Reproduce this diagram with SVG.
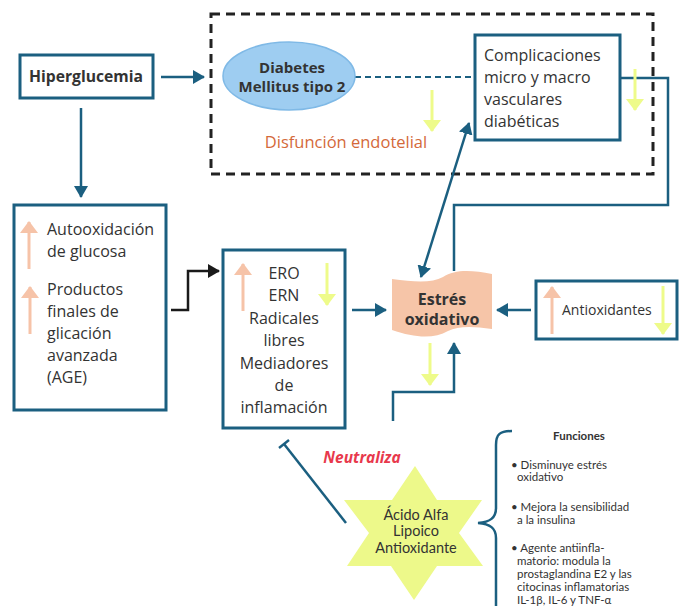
<svg xmlns="http://www.w3.org/2000/svg" width="685" height="606" viewBox="0 0 685 606">
<style>
.box{fill:#fff;stroke:#1b5f80;stroke-width:3}
.t{font-family:"Open Sans",Lato,sans-serif;fill:#333;font-size:16px}
.l{font-family:Lato,"Open Sans",sans-serif}
.b{font-weight:bold}
.c{text-anchor:middle}
.ln{fill:none;stroke:#1b5f80;stroke-width:2.5}
.ya{stroke:#eefb8a;stroke-width:3;fill:none}
.pa{stroke:#f6c3a8;stroke-width:3;fill:none}
.sm{font-size:11.5px}
</style>
<defs>
<marker id="ah" viewBox="0 0 12 14" markerWidth="12" markerHeight="14" refX="11" refY="7" orient="auto-start-reverse" markerUnits="userSpaceOnUse"><path d="M0,0L12,7L0,14z" fill="#1b5f80"/></marker>
<marker id="ahk" viewBox="0 0 12 14" markerWidth="12" markerHeight="14" refX="11" refY="7" orient="auto" markerUnits="userSpaceOnUse"><path d="M0,0L12,7L0,14z" fill="#1a1a1a"/></marker>
<marker id="ay" viewBox="0 0 12 18" markerWidth="12" markerHeight="18" refX="11" refY="9" orient="auto" markerUnits="userSpaceOnUse"><path d="M0,0L12,9L0,18z" fill="#eefb8a"/></marker>
<marker id="ap" viewBox="0 0 12 18" markerWidth="12" markerHeight="18" refX="11" refY="9" orient="auto" markerUnits="userSpaceOnUse"><path d="M0,0L12,9L0,18z" fill="#f6c3a8"/></marker>
</defs>

<rect id="grupo-disfuncion" x="211" y="14" width="442" height="160" fill="none" stroke="#222" stroke-width="3" stroke-dasharray="9,6"/>

<g id="connectors">
<line class="ln" x1="161" y1="77" x2="204" y2="77" marker-end="url(#ah)"/>
<line class="ln" x1="81" y1="108" x2="81" y2="197" marker-end="url(#ah)"/>
<line x1="355" y1="77" x2="475" y2="77" stroke="#1b5f80" stroke-width="2" stroke-dasharray="6,4"/>
<path class="ln" d="M620,78H668V205H454V271"/>
<line class="ln" x1="421" y1="277" x2="469" y2="123" marker-start="url(#ah)" marker-end="url(#ah)"/>
<path d="M171,310H188V271H219" fill="none" stroke="#1a1a1a" stroke-width="2.5" marker-end="url(#ahk)"/>
<line class="ln" x1="352" y1="310" x2="386" y2="310" marker-end="url(#ah)"/>
<line class="ln" x1="531" y1="310" x2="497" y2="310" marker-end="url(#ah)"/>
<path class="ln" d="M393,421V392H454V343" marker-end="url(#ah)"/>
<line class="ln" x1="346" y1="523" x2="284" y2="444"/>
<line class="ln" x1="279" y1="448" x2="289" y2="440"/>
<path class="ln" d="M512,431C500,431 496,434 496,445V508C496,518 490,522 478,523C490,524 496,528 496,538V606"/>
</g>

<g id="hiperglucemia">
<rect class="box" x="20" y="55" width="133" height="43"/>
<text class="t b c" x="86" y="82" style="font-size:15.7px">Hiperglucemia</text>
</g>

<g id="diabetes">
<ellipse cx="289" cy="76" rx="66" ry="34" fill="#9ecdf1" stroke="#7fb9e6" stroke-width="1.5"/>
<text class="t b c" x="292" y="72.5" style="font-size:15px">Diabetes</text>
<text class="t b c" x="292" y="92" style="font-size:15px">Mellitus tipo 2</text>
</g>

<g id="complicaciones">
<rect class="box" x="475" y="35" width="145" height="105"/>
<text class="t" x="484" y="61">Complicaciones</text>
<text class="t" x="484" y="83">micro y macro</text>
<text class="t" x="484" y="105">vasculares</text>
<text class="t" x="484" y="127">diabéticas</text>
</g>

<g id="disfuncion">
<text class="t c" x="346" y="148" style="font-size:16.5px;fill:#d4693a">Disfunción endotelial</text>
</g>
<line class="ya" x1="432" y1="90" x2="432" y2="131" marker-end="url(#ay)"/>
<line class="ya" x1="635" y1="69" x2="635" y2="110" marker-end="url(#ay)"/>

<g id="autooxidacion">
<rect class="box" x="14" y="205" width="152" height="205"/>
<text class="t" x="47" y="235">Autooxidación</text>
<text class="t" x="47" y="257">de glucosa</text>
<text class="t" x="47" y="295">Productos</text>
<text class="t" x="47" y="317">finales de</text>
<text class="t" x="47" y="339">glicación</text>
<text class="t" x="47" y="361">avanzada</text>
<text class="t" x="47" y="383">(AGE)</text>
<line class="pa" x1="29" y1="269" x2="29" y2="222" marker-end="url(#ap)"/>
<line class="pa" x1="30" y1="334" x2="30" y2="287" marker-end="url(#ap)"/>
</g>

<g id="ero">
<rect class="box" x="223" y="250" width="122" height="178"/>
<text class="t c" x="284" y="279">ERO</text>
<text class="t c" x="284" y="301">ERN</text>
<text class="t c" x="284" y="324">Radicales</text>
<text class="t c" x="284" y="346">libres</text>
<text class="t c" x="284" y="369">Mediadores</text>
<text class="t c" x="284" y="391">de</text>
<text class="t c" x="284" y="413">inflamación</text>
<line class="pa" x1="243" y1="311" x2="243" y2="264" marker-end="url(#ap)"/>
<line class="ya" x1="327" y1="263" x2="327" y2="305" marker-end="url(#ay)"/>
</g>

<g id="estres">
<path d="M392,279C415,282 432,283 443,277C455,269 472,270 492,274L492,329C472,326 458,326 448,331C434,339 415,338 392,330Z" fill="#f6c5a8"/>
<text class="t b c" x="442" y="305">Estrés</text>
<text class="t b c" x="442" y="325">oxidativo</text>
</g>
<line class="ya" x1="430" y1="343" x2="430" y2="385" marker-end="url(#ay)"/>

<g id="antioxidantes">
<rect class="box" x="536" y="281" width="141" height="58"/>
<text class="t" x="562" y="315" style="font-size:14px">Antioxidantes</text>
<line class="pa" x1="552" y1="334" x2="552" y2="287" marker-end="url(#ap)"/>
<line class="ya" x1="663" y1="286" x2="663" y2="334" marker-end="url(#ay)"/>
</g>

<g id="neutraliza">
<text class="t b c" x="362" y="463" style="font-size:15.5px;font-style:italic;fill:#e8394c">Neutraliza</text>
</g>

<g id="acido-alfa-lipoico">
<path d="M415,466L437,500L482,500L459,533L483,566L437,566L414,600L391,566L347,566L369,533L344,500L392,500Z" fill="#edf98a"/>
<text class="t l c" x="416" y="520" style="font-size:14.5px">Ácido Alfa</text>
<text class="t l c" x="416" y="536.3" style="font-size:14.5px">Lipoico</text>
<text class="t l c" x="416" y="552.6" style="font-size:14.5px">Antioxidante</text>
</g>

<g id="funciones">
<text class="t l b c sm" x="579" y="440">Funciones</text>
<text class="t l sm" x="511" y="469">• Disminuye estrés</text>
<text class="t l sm" x="517" y="481">oxidativo</text>
<text class="t l sm" x="511" y="511">• Mejora la sensibilidad</text>
<text class="t l sm" x="517" y="524">a la insulina</text>
<text class="t l sm" x="511" y="552">• Agente antiinfla-</text>
<text class="t l sm" x="517" y="565">matorio: modula la</text>
<text class="t l sm" x="517" y="578">prostaglandina E2 y las</text>
<text class="t l sm" x="517" y="591">citocinas inflamatorias</text>
<text class="t l sm" x="517" y="604">IL-1β, IL-6 y TNF-α</text>
</g>
</svg>
